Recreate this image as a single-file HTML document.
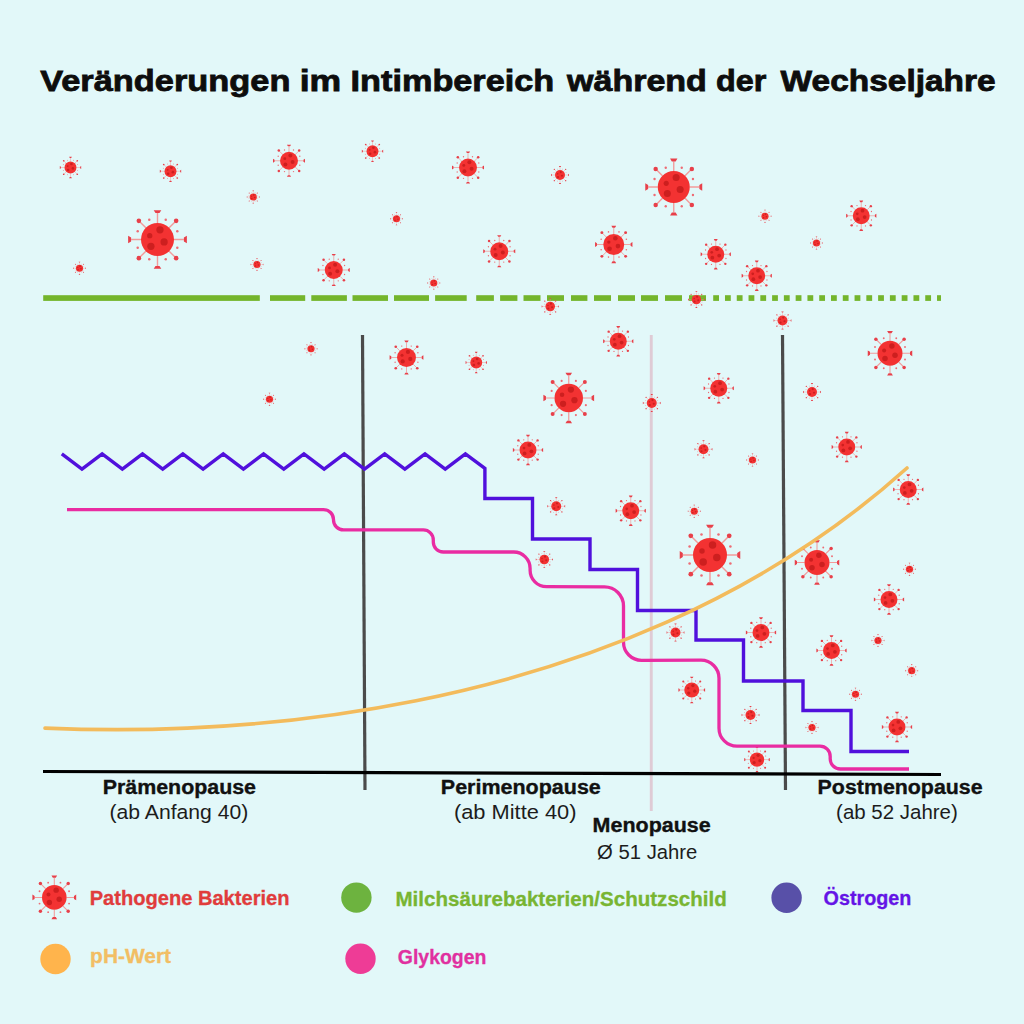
<!DOCTYPE html>
<html><head><meta charset="utf-8"><style>
html,body{margin:0;padding:0;background:#e2f8f9;}
svg{display:block;}
text{font-family:"Liberation Sans",sans-serif;}
</style></head><body>
<svg width="1024" height="1024" viewBox="0 0 1024 1024">
<defs><g id="v">
 <path d="M1 0H1.6M-1 0H-1.6M0 1V1.6M0 -1V-1.6M.707 .707L1.06 1.06M-.707 .707L-1.06 1.06M.707 -.707L1.06 -1.06M-.707 -.707L-1.06 -1.06" stroke="#f39a9a" stroke-width="0.085" fill="none"/>
 <g fill="#e8404a">
  <path d="M1.6 -.12L1.78 -.23V.23L1.6 .12ZM-1.6 -.12L-1.78 -.23V.23L-1.6 .12ZM-.12 1.6L-.23 1.78H.23L.12 1.6ZM-.12 -1.6L-.23 -1.78H.23L.12 -1.6Z"/>
  <circle cx="1.13" cy="1.13" r=".14"/><circle cx="-1.13" cy="1.13" r=".14"/><circle cx="1.13" cy="-1.13" r=".14"/><circle cx="-1.13" cy="-1.13" r=".14"/>
 </g>
 <g fill="#ee6b74">
  <circle cx="1.2" cy=".5" r=".075"/><circle cx=".5" cy="1.2" r=".075"/><circle cx="-.5" cy="1.2" r=".075"/><circle cx="-1.2" cy=".5" r=".075"/>
  <circle cx="1.2" cy="-.5" r=".075"/><circle cx=".5" cy="-1.2" r=".075"/><circle cx="-.5" cy="-1.2" r=".075"/><circle cx="-1.2" cy="-.5" r=".075"/>
 </g>
 <circle r="1" fill="#f33232"/>
 <g fill="#cd1f1f">
  <circle cx=".15" cy="-.59" r=".22"/><circle cx="-.47" cy="-.23" r=".16"/><circle cx=".4" cy=".15" r=".22"/><circle cx="-.4" cy=".41" r=".22"/>
 </g>
</g></defs>
<rect width="1024" height="1024" fill="#e2f8f9"/>
<g font-size="29.5" font-weight="bold" fill="#0d0d0d" stroke="#0d0d0d" stroke-width="0.8"><text x="40.2" y="90.7" textLength="250.3" lengthAdjust="spacingAndGlyphs">Veränderungen</text><text x="299.7" y="90.7" textLength="41.5" lengthAdjust="spacingAndGlyphs">im</text><text x="350.6" y="90.7" textLength="203.6" lengthAdjust="spacingAndGlyphs">Intimbereich</text><text x="567.0" y="90.7" textLength="139.9" lengthAdjust="spacingAndGlyphs">während</text><text x="716.1" y="90.7" textLength="50.3" lengthAdjust="spacingAndGlyphs">der</text><text x="780.6" y="90.7" textLength="215.1" lengthAdjust="spacingAndGlyphs">Wechseljahre</text></g>
<g fill="#74b52c"><rect x="43.2" y="295.2" width="216.6" height="5.7"/><rect x="270" y="295.2" width="35.2" height="5.7"/><rect x="311.3" y="295.2" width="35.6" height="5.7"/><rect x="352.5" y="295.2" width="35.5" height="5.7"/><rect x="394" y="295.2" width="35.0" height="5.7"/><rect x="435.1" y="295.2" width="31.6" height="5.7"/><rect x="476.2" y="295.2" width="17.7" height="5.7"/><rect x="500.1" y="295.2" width="17.3" height="5.7"/><rect x="523.5" y="295.2" width="17.0" height="5.7"/><rect x="547" y="295.2" width="17.0" height="5.7"/><rect x="571" y="295.2" width="16.4" height="5.7"/><rect x="594" y="295.2" width="17.0" height="5.7"/><rect x="618" y="295.2" width="17.0" height="5.7"/><rect x="641" y="295.2" width="17.0" height="5.7"/><rect x="665" y="295.2" width="17.0" height="5.7"/><rect x="689" y="295.2" width="17.0" height="5.7"/><rect x="713.20" y="295.2" width="5.80" height="5.7"/><rect x="724.98" y="295.2" width="5.80" height="5.7"/><rect x="736.76" y="295.2" width="5.80" height="5.7"/><rect x="748.54" y="295.2" width="5.80" height="5.7"/><rect x="760.32" y="295.2" width="5.80" height="5.7"/><rect x="772.10" y="295.2" width="5.80" height="5.7"/><rect x="783.88" y="295.2" width="5.80" height="5.7"/><rect x="795.66" y="295.2" width="5.80" height="5.7"/><rect x="807.44" y="295.2" width="5.80" height="5.7"/><rect x="819.22" y="295.2" width="5.80" height="5.7"/><rect x="831.00" y="295.2" width="5.80" height="5.7"/><rect x="842.78" y="295.2" width="5.80" height="5.7"/><rect x="854.56" y="295.2" width="5.80" height="5.7"/><rect x="866.34" y="295.2" width="5.80" height="5.7"/><rect x="878.12" y="295.2" width="5.80" height="5.7"/><rect x="889.90" y="295.2" width="5.80" height="5.7"/><rect x="901.68" y="295.2" width="5.80" height="5.7"/><rect x="913.46" y="295.2" width="5.80" height="5.7"/><rect x="925.24" y="295.2" width="5.80" height="5.7"/><rect x="937.02" y="295.2" width="3.98" height="5.7"/></g>
<line x1="651.25" y1="335" x2="651.25" y2="811" stroke="#dfcbd5" stroke-width="2.9"/>
<line x1="362.5" y1="335" x2="365" y2="790" stroke="#4b4b4b" stroke-width="3.2"/>
<line x1="782.5" y1="335" x2="785.5" y2="790" stroke="#4b4b4b" stroke-width="3.2"/>
<use href="#v" transform="translate(70.5 167.5) scale(6.000)"/>
<use href="#v" transform="translate(170.5 171.25) scale(6.000)"/>
<use href="#v" transform="translate(157.5 239.5) scale(16.500)"/>
<use href="#v" transform="translate(253.25 197) scale(3.600)"/>
<use href="#v" transform="translate(79.5 268.25) scale(3.600)"/>
<use href="#v" transform="translate(257 264.5) scale(3.600)"/>
<use href="#v" transform="translate(289 160.75) scale(9.000)"/>
<use href="#v" transform="translate(372.5 151.25) scale(6.000)"/>
<use href="#v" transform="translate(468 167.5) scale(9.000)"/>
<use href="#v" transform="translate(396.5 218.75) scale(3.600)"/>
<use href="#v" transform="translate(333.75 270) scale(9.000)"/>
<use href="#v" transform="translate(499.25 251.25) scale(9.000)"/>
<use href="#v" transform="translate(433.75 283) scale(3.600)"/>
<use href="#v" transform="translate(560 175) scale(5.000)"/>
<use href="#v" transform="translate(673.75 187) scale(16.000)"/>
<use href="#v" transform="translate(613.75 244.5) scale(10.500)"/>
<use href="#v" transform="translate(715.75 254.25) scale(8.500)"/>
<use href="#v" transform="translate(756.75 275.75) scale(8.500)"/>
<use href="#v" transform="translate(765 216.25) scale(3.600)"/>
<use href="#v" transform="translate(861.25 215.75) scale(8.500)"/>
<use href="#v" transform="translate(816.5 243) scale(3.600)"/>
<use href="#v" transform="translate(550.2 306.5) scale(4.800)"/>
<use href="#v" transform="translate(696.4 299.6) scale(4.700)"/>
<use href="#v" transform="translate(782.5 320.5) scale(5.000)"/>
<use href="#v" transform="translate(311 348.75) scale(3.600)"/>
<use href="#v" transform="translate(269.5 399.25) scale(3.600)"/>
<use href="#v" transform="translate(406.5 357.5) scale(9.500)"/>
<use href="#v" transform="translate(618.25 341.25) scale(8.500)"/>
<use href="#v" transform="translate(476.25 362.5) scale(6.000)"/>
<use href="#v" transform="translate(568.75 398) scale(14.250)"/>
<use href="#v" transform="translate(651.75 403) scale(5.000)"/>
<use href="#v" transform="translate(528 450) scale(8.500)"/>
<use href="#v" transform="translate(890 353.25) scale(12.500)"/>
<use href="#v" transform="translate(718.75 388.25) scale(8.500)"/>
<use href="#v" transform="translate(812 392) scale(5.000)"/>
<use href="#v" transform="translate(703.5 449.25) scale(5.000)"/>
<use href="#v" transform="translate(846.75 447) scale(8.500)"/>
<use href="#v" transform="translate(752.5 460) scale(3.600)"/>
<use href="#v" transform="translate(556.25 506.25) scale(5.000)"/>
<use href="#v" transform="translate(630.75 510.75) scale(8.500)"/>
<use href="#v" transform="translate(544.3 559.5) scale(4.800)"/>
<use href="#v" transform="translate(694.25 511.25) scale(3.600)"/>
<use href="#v" transform="translate(710 555) scale(17.000)"/>
<use href="#v" transform="translate(908.25 489.5) scale(8.500)"/>
<use href="#v" transform="translate(817 562.5) scale(12.500)"/>
<use href="#v" transform="translate(909.5 569.25) scale(3.600)"/>
<use href="#v" transform="translate(889 599.5) scale(8.500)"/>
<use href="#v" transform="translate(675.5 632.5) scale(5.000)"/>
<use href="#v" transform="translate(761 632.5) scale(8.500)"/>
<use href="#v" transform="translate(878 640.5) scale(3.600)"/>
<use href="#v" transform="translate(831.5 650.5) scale(8.500)"/>
<use href="#v" transform="translate(691.75 690) scale(7.500)"/>
<use href="#v" transform="translate(855.5 694.25) scale(3.600)"/>
<use href="#v" transform="translate(750.5 715) scale(5.000)"/>
<use href="#v" transform="translate(812 727.5) scale(3.600)"/>
<use href="#v" transform="translate(897 727) scale(8.500)"/>
<use href="#v" transform="translate(757 759.6) scale(7.200)"/>
<use href="#v" transform="translate(911.7 670.7) scale(3.600)"/>
<line x1="43" y1="771.5" x2="941" y2="774.5" stroke="#000" stroke-width="3.2"/>
<path d="M61.8 453.8 L81.98 469 L102.16 453.8 L122.34 469 L142.52 453.8 L162.70 469 L182.88 453.8 L203.06 469 L223.24 453.8 L243.42 469 L263.60 453.8 L283.78 469 L303.96 453.8 L324.14 469 L344.32 453.8 L364.50 469 L384.68 453.8 L404.86 469 L425.04 453.8 L445.22 469 L465.40 453.8 L484.9 468.4 L484.9 498.5 L532.5 498.5 L532.5 539 L590 539 L590 569.5 L637.5 569.5 L637.5 610.5 L696 610.5 L696 640 L743.5 640 L743.5 681 L803 681 L803 710.5 L851 710.5 L851 751.5 L909 751.5" fill="none" stroke="#5010dc" stroke-width="3.4" stroke-linejoin="miter"/>
<path d="M67 509.6 L323.5 509.6 A10 10 0 0 1 333.5 519.6 L333.5 519.9 A10 10 0 0 0 343.5 529.9 L423.3 529.9 A10 10 0 0 1 433.3 539.9 L433.3 542 A10 10 0 0 0 443.3 552 L513.7 552 A16.4 16.4 0 0 1 530.1 568.4 L530.1 570.3000000000001 A16.4 16.4 0 0 0 546.5 586.7 L604.5 586.9 A19 19 0 0 1 623.5 605.9 L623.5 642.3 A18 18 0 0 0 641.5 660.3 L701 660.2 A18 18 0 0 1 719 678.2 L719 728.2 A18 18 0 0 0 737 746.2 L820 746.2 A10.2 10.2 0 0 1 830.2 756.4000000000001 L830.2 758.8 A10.2 10.2 0 0 0 840.4000000000001 769 L909 769" fill="none" stroke="#e92ca2" stroke-width="3.3"/>
<path d="M45 728.1 C182.58 734.0 609.53 735.84 907 468" fill="none" stroke="#f3bb5c" stroke-width="3.6" stroke-linecap="round"/>
<g font-weight="bold" fill="#111" font-size="20.3" stroke="#111" stroke-width="0.35">
<text x="102.7" y="794.4" textLength="153.3" lengthAdjust="spacingAndGlyphs">Prämenopause</text>
<text x="440.8" y="793.6" textLength="160" lengthAdjust="spacingAndGlyphs">Perimenopause</text>
<text x="592.6" y="831.8" textLength="118.1" lengthAdjust="spacingAndGlyphs">Menopause</text>
<text x="817.6" y="794" textLength="165" lengthAdjust="spacingAndGlyphs">Postmenopause</text>
</g>
<g fill="#1c1c1c" font-size="20.5">
<text x="109.5" y="818.5" textLength="138.8" lengthAdjust="spacingAndGlyphs">(ab Anfang 40)</text>
<text x="453.9" y="818.5" textLength="122.6" lengthAdjust="spacingAndGlyphs">(ab Mitte 40)</text>
<text x="597.1" y="859.3" textLength="100.2" lengthAdjust="spacingAndGlyphs">Ø 51 Jahre</text>
<text x="836.1" y="818.6" textLength="121.7" lengthAdjust="spacingAndGlyphs">(ab 52 Jahre)</text>
</g>
<use href="#v" transform="translate(54.3 897.4) scale(12.300)"/>
<circle cx="356.4" cy="897.6" r="15.2" fill="#6db33f"/>
<circle cx="786.6" cy="897.7" r="15.2" fill="#5850a8"/>
<circle cx="55.5" cy="959" r="15.2" fill="#ffb44c"/>
<circle cx="360.5" cy="958.8" r="15.2" fill="#ee3c96"/>
<g font-weight="bold" font-size="19.8" stroke-width="0.3">
<text x="89.7" y="904.6" fill="#e03c3c" stroke="#e03c3c" textLength="199.8" lengthAdjust="spacingAndGlyphs">Pathogene Bakterien</text>
<text x="395.5" y="905.9" fill="#78b532" stroke="#78b532" textLength="331.3" lengthAdjust="spacingAndGlyphs">Milchsäurebakterien/Schutzschild</text>
<text x="823.6" y="904.6" fill="#6414e6" stroke="#6414e6" textLength="87.8" lengthAdjust="spacingAndGlyphs">Östrogen</text>
<text x="90.1" y="962.9" fill="#f2be64" stroke="#f2be64" textLength="81" lengthAdjust="spacingAndGlyphs">pH-Wert</text>
<text x="397.8" y="964" fill="#e030a0" stroke="#e030a0" textLength="88.6" lengthAdjust="spacingAndGlyphs">Glykogen</text>
</g>
</svg>
</body></html>
